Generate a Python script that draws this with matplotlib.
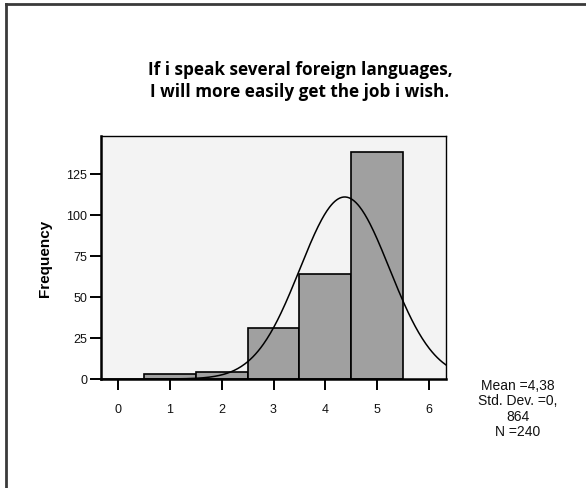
import numpy as np
import matplotlib
matplotlib.use('Agg')
import matplotlib.pyplot as plt
from matplotlib.lines import Line2D

# answer scale and counts
scores = [1, 2, 3, 4, 5]
counts = [3, 4, 31, 64, 138]
x_ticks = [0, 1, 2, 3, 4, 5, 6]
y_ticks = [0, 25, 50, 75, 100, 125]

title = 'If i speak several foreign languages,\nI will more easily get the job i wish.'
stats_text = 'Mean =4,38\nStd. Dev. =0,\n864\nN =240'

vals = np.repeat(scores, counts)
n = len(vals)
mean = vals.mean()
std = vals.std(ddof=1)

fig = plt.figure(figsize=(5.86, 4.89), dpi=100)
fig.patch.set_facecolor('white')

# outer frame (left and top only, like the screenshot)
fig.add_artist(Line2D([6/586, 6/586], [0, 1 - 5/489], transform=fig.transFigure,
                      color='#3a3a3a', lw=2))
fig.add_artist(Line2D([6/586, 1], [1 - 5/489, 1 - 5/489], transform=fig.transFigure,
                      color='#3a3a3a', lw=2))

ax = fig.add_axes([101/586, 1 - 380/489, 345/586, 243/489])
ax.set_facecolor('#f3f3f3')

ax.bar(scores, counts, width=1.0, color='#a0a0a0', edgecolor='black', linewidth=1.2, zorder=2)

# fitted normal curve from the data
xs = np.linspace(-0.4, 6.4, 400)
pdf = n * 1.0 / (std * np.sqrt(2 * np.pi)) * np.exp(-0.5 * ((xs - mean) / std) ** 2)
ax.plot(xs, pdf, color='black', lw=1.1, zorder=3)

ax.set_xlim(-0.33, 6.33)
ax.set_ylim(0, 148)
ax.set_xticks(x_ticks)
ax.set_yticks(y_ticks)

for s in ['left', 'bottom']:
    ax.spines[s].set_linewidth(1.8)
for s in ['top', 'right']:
    ax.spines[s].set_linewidth(1.0)

ax.tick_params(axis='both', direction='out', length=8, width=1.4,
               labelsize=9, labelcolor='#111111')
ax.tick_params(axis='x', pad=9)
ax.tick_params(axis='y', pad=2)
for lab in ax.get_xticklabels() + ax.get_yticklabels():
    lab.set_family('Liberation Sans')

ax.set_ylabel('Frequency', fontsize=11, fontweight='bold', family='Liberation Sans', labelpad=10)

fig.text(300/586, 1 - 81/489, title, ha='center', va='center', fontsize=12.3,
         fontweight='bold', family='Open Sans', linespacing=1.3)

fig.text(518/586, 1 - 409/489, stats_text, ha='center', va='center', fontsize=10,
         family='Liberation Sans', linespacing=1.12, color='#111111')

fig.savefig('out.png', dpi=100)
